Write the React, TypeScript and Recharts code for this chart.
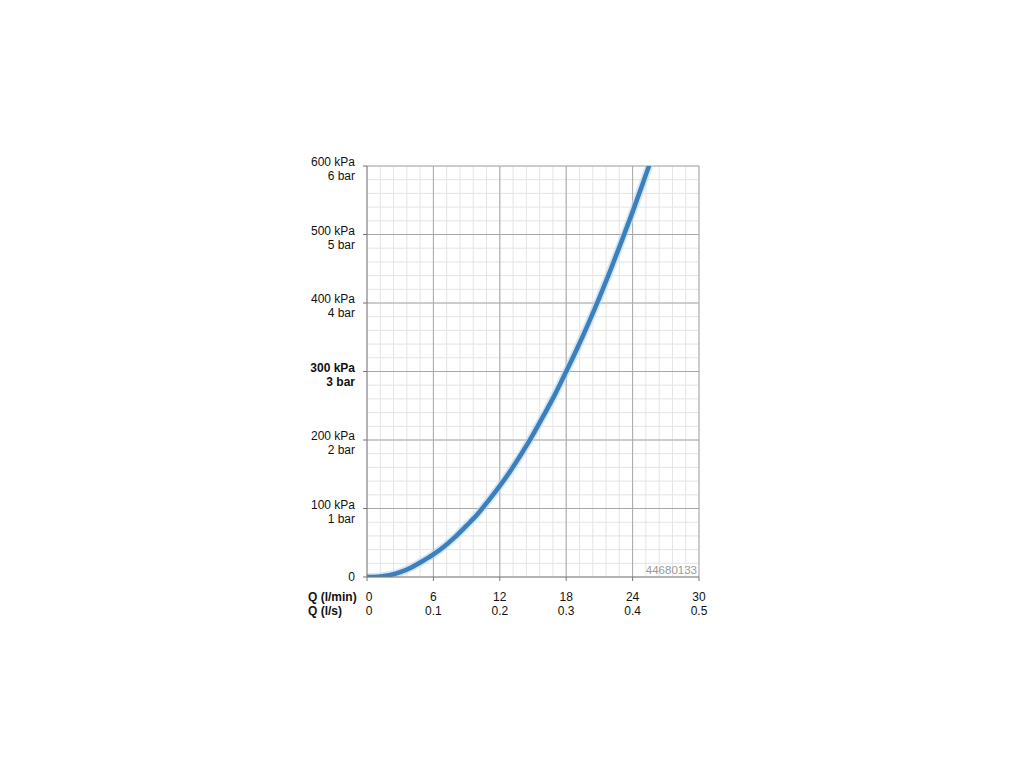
import React from 'react';
import { LineChart, Line, XAxis, YAxis, ReferenceLine } from 'recharts';

// flow in l/min, pressure loss in kPa
const flowLpm = [0, 1, 2, 3, 4, 5, 6, 7, 8, 9, 10, 11, 12, 13, 14, 15, 16, 17, 18, 19, 20, 21, 22, 23, 24, 25, 25.5];
const pressureKpa = [0, 0.5, 2.5, 7, 14, 23, 33, 45, 59, 75, 92, 112, 133, 156, 181, 208, 237, 267, 300, 334, 370, 408, 448, 490, 533, 578, 601];

const xTicks = [0, 6, 12, 18, 24, 30];
const xTicksLps = ['0', '0.1', '0.2', '0.3', '0.4', '0.5'];
const yTicks = [0, 100, 200, 300, 400, 500, 600];
const yTicksBar = ['0', '1 bar', '2 bar', '3 bar', '4 bar', '5 bar', '6 bar'];

const minorX = Array.from({ length: 26 }, (_, i) => +(i * 1.2).toFixed(1));
const minorY = Array.from({ length: 31 }, (_, i) => i * 20);

const data = flowLpm.map((q, i) => ({ q, p: pressureKpa[i] }));

const MAJOR = '#a8a8a8';
const MINOR = '#e4e4e4';
const CURVE = '#3b7fbc';

const YTick = (props: any) => {
  const { x, y, payload } = props;
  const i = yTicks.indexOf(payload.value);
  const bold = payload.value === 300 ? 'bold' : 'normal';
  if (payload.value === 0) {
    return (
      <text x={x} y={y + 4} textAnchor="end" fontSize={12} fill="#111">0</text>
    );
  }
  return (
    <g>
      <text x={x} y={y} textAnchor="end" fontSize={12} fill="#111" fontWeight={bold}>{`${payload.value} kPa`}</text>
      <text x={x} y={y + 14} textAnchor="end" fontSize={12} fill="#111" fontWeight={bold}>{yTicksBar[i]}</text>
    </g>
  );
};

const XTick = (props: any) => {
  const { x, y, payload } = props;
  const i = xTicks.indexOf(payload.value);
  return (
    <g>
      {payload.value === 0 && (
        <>
          <text x={x - 59} y={y + 18} textAnchor="start" fontSize={12} fontWeight="bold" fill="#111">Q (l/min)</text>
          <text x={x - 59} y={y + 32} textAnchor="start" fontSize={12} fontWeight="bold" fill="#111">Q (l/s)</text>
        </>
      )}
      <text x={x + (i === 0 ? 2 : 0)} y={y + 18} textAnchor="middle" fontSize={12} fill="#111">{payload.value}</text>
      <text x={x + (i === 0 ? 2 : 0)} y={y + 32} textAnchor="middle" fontSize={12} fill="#111">{xTicksLps[i]}</text>
    </g>
  );
};

export default function App() {
  return (
    <div style={{ position: 'relative', width: 1000, height: 700, fontFamily: '"Liberation Sans", Arial, sans-serif' }}>
      <LineChart
        width={1000}
        height={700}
        data={data}
        margin={{ top: 158, left: 299, right: 309, bottom: 91 }}
      >
        <XAxis
          dataKey="q"
          type="number"
          domain={[0, 30]}
          ticks={xTicks}
          height={40}
          tickSize={4}
          tickMargin={2}
          tick={<XTick />}
          stroke="#777"
          tickLine={{ stroke: '#777' }}
          interval={0}
        />
        <YAxis
          type="number"
          domain={[0, 600]}
          ticks={yTicks}
          width={60}
          tickSize={4}
          tickMargin={8}
          tick={<YTick />}
          stroke="#777"
          tickLine={{ stroke: '#777' }}
          interval={0}
          allowDataOverflow
        />
        {minorX.map((v) => (
          <ReferenceLine key={`mx-${v}`} x={v} stroke={MINOR} strokeWidth={1} />
        ))}
        {minorY.map((v) => (
          <ReferenceLine key={`my-${v}`} y={v} stroke={MINOR} strokeWidth={1} />
        ))}
        {xTicks.slice(1).map((v) => (
          <ReferenceLine key={`Mx-${v}`} x={v} stroke={MAJOR} strokeWidth={1} />
        ))}
        {yTicks.slice(1).map((v) => (
          <ReferenceLine key={`My-${v}`} y={v} stroke={MAJOR} strokeWidth={1} />
        ))}
        <Line
          dataKey="p"
          type="monotone"
          stroke="#b9d5f0"
          strokeOpacity={0.6}
          strokeWidth={8}
          dot={false}
          activeDot={false}
          isAnimationActive={false}
        />
        <Line
          dataKey="p"
          type="monotone"
          stroke={CURVE}
          strokeWidth={4.5}
          dot={false}
          activeDot={false}
          isAnimationActive={false}
        />
      </LineChart>
      <span
        style={{
          position: 'absolute',
          left: 0,
          width: 689,
          top: 556,
          textAlign: 'right',
          fontSize: 11.5,
          color: '#999',
        }}
      >
        44680133
      </span>
    </div>
  );
}
